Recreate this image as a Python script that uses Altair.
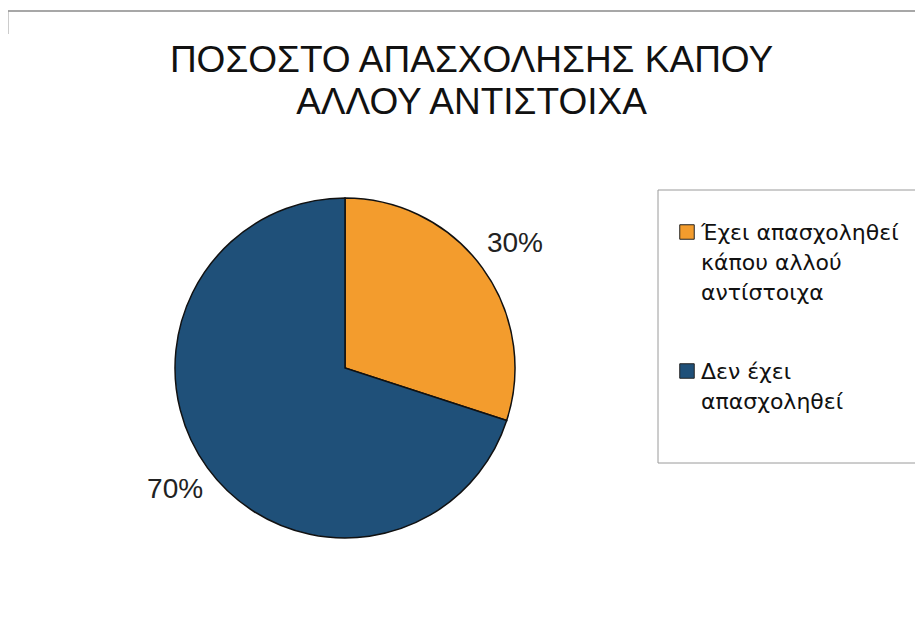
import altair as alt
import pandas as pd

categories = ["Έχει απασχοληθεί|κάπου αλλού|αντίστοιχα", "Δεν έχει|απασχοληθεί"]
values = [30, 70]
labels = ["30%", "70%"]
order = [0, 1]
colors = ["#F39C2D", "#1F5079"]
title_lines = ["ΠΟΣΟΣΤΟ ΑΠΑΣΧΟΛΗΣΗΣ ΚΑΠΟΥ", "ΑΛΛΟΥ ΑΝΤΙΣΤΟΙΧΑ"]

df = pd.DataFrame({"cat": categories, "value": values, "label": labels, "order": order})
frame_df = pd.DataFrame({"k": [0]})

# decorative frame pieces (chart border fragments) and legend box
frame_top = alt.Chart(frame_df).mark_rule(color="#8a8a8a", strokeWidth=1.5).encode(
    x=alt.value(0), x2=alt.value(915), y=alt.value(-127)
)
frame_left = alt.Chart(frame_df).mark_rule(color="#9a9a9a", strokeWidth=1).encode(
    x=alt.value(0), y=alt.value(-127), y2=alt.value(-104)
)
legend_box = alt.Chart(frame_df).mark_rect(fill="white", stroke="#9a9a9a", strokeWidth=1).encode(
    x=alt.value(650), x2=alt.value(925), y=alt.value(52), y2=alt.value(325)
)

base = alt.Chart(df).encode(
    theta=alt.Theta("value:Q", stack=True),
    order=alt.Order("order:Q"),
)

pie = base.mark_arc(outerRadius=170, stroke="#111111", strokeWidth=1.5, x=337, y=230).encode(
    color=alt.Color(
        "cat:N",
        scale=alt.Scale(domain=categories, range=colors),
        legend=alt.Legend(
            title=None,
            orient="none",
            legendX=668,
            legendY=83,
            symbolType="square",
            symbolSize=210,
            symbolStrokeColor="#222222",
            symbolStrokeWidth=1,
            labelFont="DejaVu Sans",
            labelFontSize=22,
            labelColor="#111111",
            labelLimit=400,
            labelExpr="split(datum.label, '|')",
            labelBaseline="top",
            labelOffset=3,
            padding=0,
            rowPadding=56,
        ),
    )
)

text = base.mark_text(radius=210, fontSize=28, font="Liberation Sans", color="#222222", x=337, y=229).encode(
    text="label:N"
)

chart = (
    alt.layer(frame_top, frame_left, legend_box, pie, text)
    .properties(
        width=907,
        height=492,
        padding={"left": 0, "top": 130, "right": 0, "bottom": 0},
        autosize="none",
        title=alt.Title(
            title_lines,
            fontSize=37,
            font="Liberation Sans",
            fontWeight="normal",
            color="#111111",
            lineHeight=42,
            offset=13,
            dx=10,
            dy=125,
            frame="group",
        ),
    )
    .configure(style={"guide-label": {"lineHeight": 30, "dy": -9}})
    .configure_view(stroke=None)
)

chart.save("out.html", embed_options={"renderer": "svg", "actions": False})
